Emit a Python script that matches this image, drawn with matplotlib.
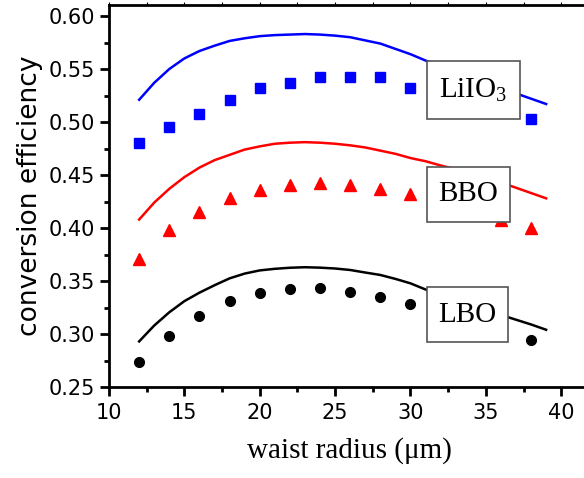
import matplotlib.pyplot as plt
from matplotlib.patches import Rectangle
from matplotlib.ticker import MultipleLocator

plt.rcParams['mathtext.fontset'] = 'custom'
plt.rcParams['mathtext.rm'] = 'Liberation Serif'

# measured points (waist radius in um)
x_pts = [12, 14, 16, 18, 20, 22, 24, 26, 28, 30, 32, 34, 36, 38]
lio3_pts = [0.480, 0.495, 0.508, 0.521, 0.532, 0.537, 0.542, 0.542, 0.542, 0.532, 0.525, 0.518, 0.510, 0.503]
bbo_pts = [0.371, 0.398, 0.415, 0.428, 0.436, 0.441, 0.442, 0.441, 0.437, 0.432, 0.424, 0.416, 0.408, 0.400]
lbo_pts = [0.274, 0.298, 0.317, 0.331, 0.339, 0.342, 0.343, 0.340, 0.335, 0.328, 0.320, 0.312, 0.303, 0.294]

# theory curves
x_fit = list(range(12, 40))
lio3_fit = [0.521, 0.537, 0.550, 0.560, 0.567, 0.572, 0.5765, 0.579, 0.581, 0.582,
            0.5825, 0.583, 0.5825, 0.5815, 0.580, 0.577, 0.574, 0.569, 0.564, 0.558,
            0.553, 0.548, 0.543, 0.537, 0.532, 0.527, 0.522, 0.517]
bbo_fit = [0.408, 0.424, 0.437, 0.448, 0.457, 0.464, 0.469, 0.474, 0.477, 0.4795,
           0.4805, 0.481, 0.4805, 0.4795, 0.478, 0.476, 0.473, 0.470, 0.466, 0.463,
           0.459, 0.4555, 0.4515, 0.4475, 0.443, 0.438, 0.433, 0.428]
lbo_fit = [0.293, 0.308, 0.3205, 0.331, 0.339, 0.346, 0.3525, 0.357, 0.360, 0.3615,
           0.3625, 0.363, 0.3626, 0.3618, 0.3604, 0.358, 0.3557, 0.352, 0.3478, 0.342,
           0.337, 0.332, 0.327, 0.3225, 0.318, 0.3135, 0.309, 0.304]

labels = [r'LiIO$_\mathrm{3}$', 'BBO', 'LBO']

fig = plt.figure(figsize=(5.84, 4.78), dpi=100)
ax = fig.add_axes([109/584, 1 - 387/478, 1 - 109/584 + 0.01, (387 - 5)/478])

ax.plot(x_fit, lio3_fit, color='#0000ff', lw=1.8, zorder=2)
ax.plot(x_fit, bbo_fit, color='#ff0000', lw=1.8, zorder=2)
ax.plot(x_fit, lbo_fit, color='black', lw=1.8, zorder=2)
ax.plot(x_pts, lio3_pts, 's', color='#0000ff', ms=6.5, ls='none', zorder=2)
ax.plot(x_pts, bbo_pts, '^', color='#ff0000', ms=8, ls='none', zorder=2)
ax.plot(x_pts, lbo_pts, 'o', color='black', ms=7, ls='none', zorder=2)

# label boxes (x0, y0, w, h in data units)
boxes = [(31.1, 0.5025, 6.16, 0.055), (31.1, 0.406, 5.5, 0.0513), (31.1, 0.2922, 5.4, 0.0518)]
for (bx, by, bw, bh), lab in zip(boxes, labels):
    ax.add_patch(Rectangle((bx, by), bw, bh, fc='white', ec='#555555', lw=1.2, zorder=5))
    ax.text(bx + bw / 2, by + bh / 2, lab, fontsize=21, family='Liberation Serif',
            ha='center', va='center', zorder=6)

ax.set_xlim(10, 41.9)
ax.set_ylim(0.25, 0.6104)
ax.xaxis.set_major_locator(MultipleLocator(5))
ax.xaxis.set_minor_locator(MultipleLocator(2.5))
ax.yaxis.set_major_locator(MultipleLocator(0.05))
ax.yaxis.set_minor_locator(MultipleLocator(0.025))
ax.yaxis.set_major_formatter(plt.FuncFormatter(lambda v, p: f'{v:.2f}'))

for s in ['left', 'bottom', 'top']:
    ax.spines[s].set_linewidth(2)
ax.spines['right'].set_visible(False)
ax.tick_params(which='major', direction='out', length=6.5, width=2, labelsize=15)
ax.tick_params(which='minor', direction='out', length=3.6, width=2)
ax.tick_params(axis='x', which='major', pad=5)
ax.tick_params(axis='x', which='both', top=True, labeltop=False)
# thin, short grey ticks on the top spine
for tl in ax.xaxis.get_majorticklines()[1::2] + ax.xaxis.get_minorticklines()[1::2]:
    tl.set_markersize(2)
    tl.set_markeredgewidth(0.8)
    tl.set_color('#777777')

ax.set_xlabel('waist radius (μm)', fontsize=21, family='Liberation Serif', labelpad=10)
ax.set_ylabel('conversion efficiency', fontsize=19, labelpad=4)

fig.savefig('out.png', dpi=100)
